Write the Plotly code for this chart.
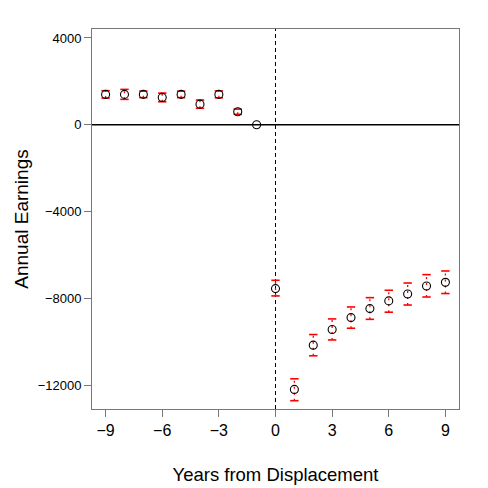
import plotly.graph_objects as go

years = [-9, -8, -7, -6, -5, -4, -3, -2, -1, 0, 1, 2, 3, 4, 5, 6, 7, 8, 9]
estimate = [1400, 1400, 1400, 1260, 1400, 950, 1400, 600, 0,
            -7554, -12200, -10160, -9440, -8890, -8475, -8120, -7800, -7430, -7264]
ci_low = [1230, 1170, 1250, 1060, 1250, 760, 1240, 480, 0,
          -7890, -12720, -10650, -9920, -9380, -8970, -8640, -8310, -7940, -7780]
ci_high = [1570, 1630, 1550, 1460, 1550, 1140, 1560, 720, 0,
           -7170, -11710, -9670, -8950, -8400, -7970, -7630, -7295, -6910, -6740]

x_ticks = [-9, -6, -3, 0, 3, 6, 9]
y_ticks = [4000, 0, -4000, -8000, -12000]

ci_years = [t for t, lo, hi in zip(years, ci_low, ci_high) if hi != lo]
ci_lo = [lo for lo, hi in zip(ci_low, ci_high) if hi != lo]
ci_hi = [hi for lo, hi in zip(ci_low, ci_high) if hi != lo]

seg_x, seg_y = [], []
for t, lo, hi in zip(ci_years, ci_lo, ci_hi):
    seg_x += [t, t, None]
    seg_y += [lo, hi, None]

fig = go.Figure()

fig.add_hline(y=0, line=dict(color="black", width=1.3), layer="below")
fig.add_vline(x=0, line=dict(color="black", width=1, dash="4px,3px"), layer="below")

fig.add_trace(go.Scatter(x=seg_x, y=seg_y, mode="lines",
                         line=dict(color="red", width=1.3, dash="2px,4px"),
                         hoverinfo="skip", showlegend=False))
fig.add_trace(go.Scatter(x=ci_years + ci_years, y=ci_lo + ci_hi, mode="markers",
                         marker=dict(symbol="line-ew", size=6, color="red",
                                     line=dict(color="red", width=1.6)),
                         hoverinfo="skip", showlegend=False))
fig.add_trace(go.Scatter(x=years, y=estimate, mode="markers",
                         marker=dict(symbol="circle-open", size=8, color="black",
                                     line=dict(color="black", width=1.1)),
                         showlegend=False))

axis_common = dict(showgrid=False, zeroline=False, showline=True, mirror=True,
                   linecolor="#777777", linewidth=1, ticks="outside",
                   ticklen=7, tickcolor="#777777", tickwidth=1, automargin=False)

fig.update_xaxes(range=[-9.72, 9.72], tickvals=x_ticks,
                 ticktext=[str(v).replace("-", "\u2212") for v in x_ticks],
                 tickfont=dict(size=16, color="black"),
                 title=dict(text="Years from Displacement", font=dict(size=18.5, color="black"),
                            standoff=29),
                 **axis_common)
fig.update_yaxes(range=[-13103, 4414], tickvals=y_ticks,
                 ticktext=[str(v).replace("-", "\u2212") for v in y_ticks],
                 tickfont=dict(size=13, color="black"),
                 title=dict(text="Annual Earnings", font=dict(size=19, color="black"),
                            standoff=4),
                 **axis_common)

fig.update_layout(width=480, height=480,
                  margin=dict(l=84, r=29, t=21, b=79),
                  paper_bgcolor="white", plot_bgcolor="white",
                  font=dict(family="Liberation Sans, Arial, sans-serif", color="black"))

fig.write_html("out.html")
